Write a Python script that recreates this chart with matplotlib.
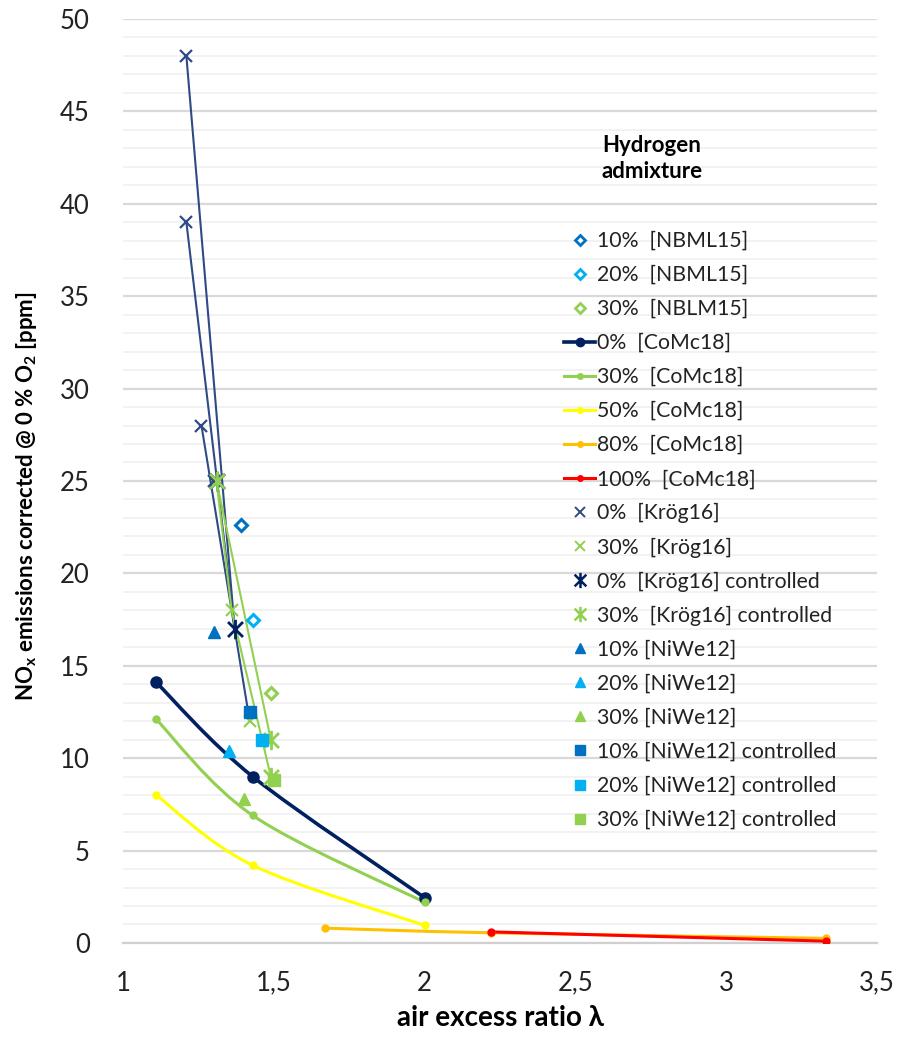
import numpy as np
import matplotlib.pyplot as plt
from matplotlib.path import Path
from matplotlib.patches import PathPatch
from matplotlib.lines import Line2D

plt.rcParams['font.family'] = ['Lato', 'DejaVu Sans']

DARK = '#002060'
NAVY = '#2f4a85'
BLUE = '#0070c0'
LIGHT = '#00b0f0'
GREEN = '#92d050'
YELLOW = '#ffff00'
ORANGE = '#ffc000'
RED = '#ff0000'

# NBML15 single points
nbml_x = [1.39, 1.43, 1.49]
nbml_y = [22.6, 17.5, 13.5]

# CoMc18 curves
comc_x = [1.11, 1.43, 2.0]
comc0_y = [14.1, 9.0, 2.45]
comc30_y = [12.1, 6.9, 2.2]
comc50_y = [8.0, 4.2, 0.95]
comc80_x = [1.67, 2.22, 3.33]
comc80_y = [0.8, 0.55, 0.25]
comc100_x = [2.22, 3.33]
comc100_y = [0.6, 0.1]

# Kröger 2016
kroeg0_x = [1.21, 1.21, 1.26, 1.30]
kroeg0_y = [48.0, 39.0, 28.0, 25.0]
kroeg30_x = [1.36, 1.42]
kroeg30_y = [18.0, 12.0]
kroeg0c_x = [1.31, 1.37]
kroeg0c_y = [25.0, 17.0]
kroeg30c_x = [1.31, 1.49, 1.49]
kroeg30c_y = [25.0, 11.0, 9.0]

# connecting lines of the Kröger runs
kroeg0_paths = [([1.21, 1.37, 1.42], [48.0, 17.0, 12.0]),
                ([1.21, 1.37], [39.0, 17.0]),
                ([1.26, 1.37], [28.0, 17.0])]
kroeg30_paths = [([1.31, 1.36, 1.49], [25.0, 18.0, 9.0]),
                 ([1.31, 1.49], [25.0, 11.0])]

# NiWe12
niwe_x = [1.30, 1.35, 1.40]
niwe_y = [16.8, 10.4, 7.8]
niwec_x = [1.42, 1.46, 1.50]
niwec_y = [12.5, 11.0, 8.8]

xticks = [1, 1.5, 2, 2.5, 3, 3.5]
xtick_labels = ['1', '1,5', '2', '2,5', '3', '3,5']
yticks = list(range(0, 51, 5))


def smooth_line(ax, xs, ys, color, lw):
    # Catmull-Rom style bezier through the points, like Excel's smoothed line
    pts = np.column_stack([xs, ys])
    n = len(pts)
    verts = [tuple(pts[0])]
    codes = [Path.MOVETO]
    for i in range(n - 1):
        p0 = pts[max(i - 1, 0)]
        p1 = pts[i]
        p2 = pts[i + 1]
        p3 = pts[min(i + 2, n - 1)]
        c1 = p1 + (p2 - p0) / 6.0
        c2 = p2 - (p3 - p1) / 6.0
        verts += [tuple(c1), tuple(c2), tuple(p2)]
        codes += [Path.CURVE4] * 3
    ax.add_patch(PathPatch(Path(verts, codes), fill=False, edgecolor=color,
                           lw=lw, capstyle='round', joinstyle='round', zorder=3))


# asterisk marker (x with a vertical bar)
star = Path([(-1, -1), (1, 1), (-1, 1), (1, -1), (0, -1.3), (0, 1.3)],
            [Path.MOVETO, Path.LINETO, Path.MOVETO, Path.LINETO, Path.MOVETO, Path.LINETO])

fig = plt.figure(figsize=(9, 10.4), dpi=100)
ax = fig.add_axes([0.1367, 0.0933, 0.8378, 0.8885])

# Kröger connecting lines
for px, py in kroeg0_paths:
    ax.plot(px, py, color=NAVY, lw=1.5, zorder=2)
for px, py in kroeg30_paths:
    ax.plot(px, py, color=GREEN, lw=1.5, zorder=2)

# CoMc18
smooth_line(ax, comc_x, comc0_y, DARK, 2.6)
smooth_line(ax, comc_x, comc30_y, GREEN, 2.2)
smooth_line(ax, comc_x, comc50_y, YELLOW, 2.2)
smooth_line(ax, comc80_x, comc80_y, ORANGE, 2.2)
smooth_line(ax, comc100_x, comc100_y, RED, 2.2)
ax.plot(comc_x, comc0_y, 'o', color=DARK, ms=8, zorder=4)
ax.plot(comc_x, comc30_y, 'o', color=GREEN, ms=5, zorder=4)
ax.plot(comc_x, comc50_y, 'o', color=YELLOW, ms=5, zorder=4)
ax.plot(comc80_x, comc80_y, 'o', color=ORANGE, ms=5, zorder=4)
ax.plot(comc100_x, comc100_y, 'o', color=RED, ms=5, zorder=4)

# NBML15 diamonds
for xv, yv, c in zip(nbml_x, nbml_y, [BLUE, LIGHT, GREEN]):
    ax.plot(xv, yv, 'D', ms=6, mfc='white', mec=c, mew=2.2, zorder=5)

# Kröger markers
ax.plot(kroeg0_x, kroeg0_y, 'x', color=NAVY, ms=8, mew=1.6, zorder=5)
ax.plot(kroeg30_x, kroeg30_y, 'x', color=GREEN, ms=8, mew=1.6, zorder=5)
ax.plot(kroeg0c_x, kroeg0c_y, marker=star, ls='none', color=DARK, ms=14, mew=2, zorder=5)
ax.plot(kroeg30c_x, kroeg30c_y, marker=star, ls='none', color=GREEN, ms=14, mew=2, zorder=5)

# NiWe12 triangles and squares
for xv, yv, c in zip(niwe_x, niwe_y, [BLUE, LIGHT, GREEN]):
    ax.plot(xv, yv, '^', ms=9, color=c, zorder=5)
for xv, yv, c in zip(niwec_x, niwec_y, [BLUE, LIGHT, GREEN]):
    ax.plot(xv, yv, 's', ms=9, color=c, zorder=5)

ax.set_xlim(1, 3.5)
ax.set_ylim(0, 50)
ax.set_xticks(xticks)
ax.set_xticklabels(xtick_labels)
ax.set_yticks(yticks)
ax.set_yticks(range(0, 51), minor=True)
ax.grid(which='major', axis='y', color='#d9d9d9', lw=1.6, zorder=0)
ax.grid(which='minor', axis='y', color='#f0f0f0', lw=1.2, zorder=0)
ax.set_axisbelow(True)
for s in ['top', 'right', 'left']:
    ax.spines[s].set_visible(False)
ax.spines['bottom'].set_color('#d0d0d0')
ax.spines['bottom'].set_linewidth(1.6)
ax.tick_params(axis='both', which='both', length=0, labelsize=18.5, colors='#222222')
ax.tick_params(axis='y', pad=24)
ax.tick_params(axis='x', pad=20)

ax.set_xlabel('air excess ratio λ', fontsize=20, fontweight='bold', va='top')
ax.xaxis.set_label_coords(0.5, -0.067)
ax.set_ylabel('NO$_\\mathregular{x}$ emissions corrected @ 0 % O$_\\mathregular{2}$ [ppm]',
              fontsize=16, fontweight='bold')
ax.yaxis.set_label_coords(-0.112, 0.483)

# legend
handles = [
    Line2D([], [], ls='none', marker='D', ms=5, mfc='white', mec=BLUE, mew=2),
    Line2D([], [], ls='none', marker='D', ms=5, mfc='white', mec=LIGHT, mew=2),
    Line2D([], [], ls='none', marker='D', ms=5, mfc='white', mec=GREEN, mew=2),
    Line2D([], [], color=DARK, lw=2.6, marker='o', ms=6),
    Line2D([], [], color=GREEN, lw=2.2, marker='o', ms=4),
    Line2D([], [], color=YELLOW, lw=2.2, marker='o', ms=4),
    Line2D([], [], color=ORANGE, lw=2.2, marker='o', ms=4),
    Line2D([], [], color=RED, lw=2.2, marker='o', ms=4),
    Line2D([], [], ls='none', marker='x', color=NAVY, ms=7, mew=1.4),
    Line2D([], [], ls='none', marker='x', color=GREEN, ms=7, mew=1.4),
    Line2D([], [], ls='none', marker=star, color=DARK, ms=11, mew=1.8),
    Line2D([], [], ls='none', marker=star, color=GREEN, ms=11, mew=1.8),
    Line2D([], [], ls='none', marker='^', color=BLUE, ms=7),
    Line2D([], [], ls='none', marker='^', color=LIGHT, ms=7),
    Line2D([], [], ls='none', marker='^', color=GREEN, ms=7),
    Line2D([], [], ls='none', marker='s', color=BLUE, ms=7),
    Line2D([], [], ls='none', marker='s', color=LIGHT, ms=7),
    Line2D([], [], ls='none', marker='s', color=GREEN, ms=7),
]
labels = ['10%  [NBML15]', '20%  [NBML15]', '30%  [NBLM15]',
          '0%  [CoMc18]', '30%  [CoMc18]', '50%  [CoMc18]', '80%  [CoMc18]', '100%  [CoMc18]',
          '0%  [Krög16]', '30%  [Krög16]', '0%  [Krög16] controlled', '30%  [Krög16] controlled',
          '10% [NiWe12]', '20% [NiWe12]', '30% [NiWe12]',
          '10% [NiWe12] controlled', '20% [NiWe12] controlled', '30% [NiWe12] controlled']
leg = fig.legend(handles, labels, loc='upper left', bbox_to_anchor=(0.627, 1 - 231 / 1040),
                 frameon=False, fontsize=15.3, handlelength=1.45, handletextpad=0.1,
                 labelspacing=0.66, borderpad=0, borderaxespad=0)
for t in leg.get_texts():
    t.set_color('#222222')

fig.text(602 / 900, 1 - 145 / 1040, 'Hydrogen', fontsize=16, fontweight='bold',
         va='center', ha='left')
fig.text(602 / 900, 1 - 172 / 1040, 'admixture', fontsize=16, fontweight='bold',
         va='center', ha='left')

fig.savefig('out.png', dpi=100, facecolor='white')
